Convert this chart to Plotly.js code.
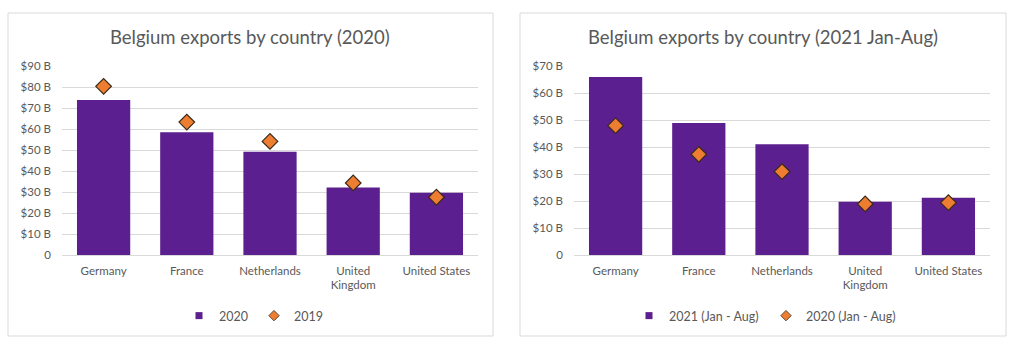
<!DOCTYPE html>
<html><head><meta charset="utf-8">
<script src="https://cdn.plot.ly/plotly-3.0.1.min.js"></script>
<style>html,body{margin:0;padding:0;background:#fff}#chart{width:1024px;height:354px}</style>
</head><body><div id="chart"></div>
<script>
const countries = ["Germany", "France", "Netherlands", "United<br>Kingdom", "United States"];
const exports2020 = [73.8, 58.4, 49.2, 32.1, 29.7];
const exports2019 = [80.3, 63.3, 54.1, 34.3, 27.5];
const exports2021JanAug = [65.9, 48.9, 41.0, 19.7, 21.2];
const exports2020JanAug = [47.9, 37.3, 30.9, 18.9, 19.4];
const leftTickVals = [0, 10, 20, 30, 40, 50, 60, 70, 80, 90];
const leftTickText = ["0", "$10 B", "$20 B", "$30 B", "$40 B", "$50 B", "$60 B", "$70 B", "$80 B", "$90 B"];
const rightTickVals = [0, 10, 20, 30, 40, 50, 60, 70];
const rightTickText = ["0", "$10 B", "$20 B", "$30 B", "$40 B", "$50 B", "$60 B", "$70 B"];
const leftTitle = "Belgium exports by country (2020)";
const rightTitle = "Belgium exports by country (2021 Jan-Aug)";
const leftSeriesNames = ["2020", "2019"];
const rightSeriesNames = ["2021 (Jan - Aug)", "2020 (Jan - Aug)"];

const FONT = "Lato, 'Open Sans', sans-serif";
const GREY = "#595959";
const PURPLE = "#5c1f8f";
const ORANGE = "#ed7d31";
const OUTLINE = "#3a2a1a";
const W = 1024, H = 354;

const diamond = {symbol: "diamond", size: 12, color: ORANGE, line: {color: OUTLINE, width: 1.2}};
const legendSquare = {symbol: "square", size: 7, color: PURPLE};
const legendDiamond = {symbol: "diamond", size: 8, color: ORANGE, line: {color: OUTLINE, width: 0.8}};

function legendEntry(name, marker, xa, ya, lg) {
  return {type: "scatter", mode: "markers", x: [null], y: [null], name: name, marker: marker,
    xaxis: xa, yaxis: ya, legend: lg, showlegend: true, hoverinfo: "skip"};
}

const traces = [
  {type: "bar", x: countries, y: exports2020, name: leftSeriesNames[0], marker: {color: PURPLE}, xaxis: "x", yaxis: "y", width: 0.64, showlegend: false},
  {type: "scatter", mode: "markers", x: countries, y: exports2019, name: leftSeriesNames[1], marker: diamond, xaxis: "x", yaxis: "y", showlegend: false},
  {type: "bar", x: countries, y: exports2021JanAug, name: rightSeriesNames[0], marker: {color: PURPLE}, xaxis: "x2", yaxis: "y2", width: 0.64, showlegend: false},
  {type: "scatter", mode: "markers", x: countries, y: exports2020JanAug, name: rightSeriesNames[1], marker: diamond, xaxis: "x2", yaxis: "y2", showlegend: false},
  legendEntry(leftSeriesNames[0], legendSquare, "x", "y", "legend"),
  legendEntry(leftSeriesNames[1], legendDiamond, "x", "y", "legend"),
  legendEntry(rightSeriesNames[0], legendSquare, "x2", "y2", "legend2"),
  legendEntry(rightSeriesNames[1], legendDiamond, "x2", "y2", "legend2")
];

const yDom = [99 / H, 288 / H];
const xAxisBase = {
  type: "category", showgrid: false, zeroline: false, showline: false,
  tickfont: {family: FONT, size: 11.5, color: GREY}, ticks: "", ticklabelstandoff: 7, fixedrange: true
};
const yAxisBase = {
  showgrid: true, gridcolor: "#d9d9d9", gridwidth: 1, zeroline: true, zerolinecolor: "#d9d9d9", zerolinewidth: 1,
  showline: false, ticks: "", tickfont: {family: FONT, size: 11.5, color: GREY}, ticklabelstandoff: 10, fixedrange: true
};
const legendBase = {orientation: "h", xanchor: "center", y: 1 - 316 / H, yanchor: "middle",
  font: {family: FONT, size: 12.5, color: GREY}, bgcolor: "rgba(0,0,0,0)", itemwidth: 30, tracegroupgap: 0,
  entrywidthmode: "pixels"};

const layout = {
  width: W, height: H,
  margin: {l: 0, r: 0, t: 0, b: 0},
  paper_bgcolor: "#fff", plot_bgcolor: "rgba(0,0,0,0)",
  showlegend: true,
  xaxis: Object.assign({}, xAxisBase, {domain: [62 / W, 478 / W], anchor: "y"}),
  yaxis: Object.assign({}, yAxisBase, {domain: yDom, range: [0, 90], tickvals: leftTickVals, ticktext: leftTickText, anchor: "x"}),
  xaxis2: Object.assign({}, xAxisBase, {domain: [574 / W, 990 / W], anchor: "y2"}),
  yaxis2: Object.assign({}, yAxisBase, {domain: yDom, range: [0, 70], tickvals: rightTickVals, ticktext: rightTickText, anchor: "x2"}),
  legend: Object.assign({}, legendBase, {x: 254 / W, entrywidth: 30}),
  legend2: Object.assign({}, legendBase, {x: 766 / W, entrywidth: 92}),
  annotations: [
    {text: leftTitle, xref: "paper", yref: "paper", x: 250 / W, y: 1 - 37 / H, xanchor: "center", yanchor: "middle",
      showarrow: false, font: {family: FONT, size: 18.5, color: GREY}},
    {text: rightTitle, xref: "paper", yref: "paper", x: 763 / W, y: 1 - 37 / H, xanchor: "center", yanchor: "middle",
      showarrow: false, font: {family: FONT, size: 18.5, color: GREY}}
  ],
  shapes: [
    {type: "rect", xref: "paper", yref: "paper", x0: 8 / W, x1: 493 / W, y0: 1 - 336 / H, y1: 1 - 13 / H, line: {color: "#d9d9d9", width: 1}, layer: "below"},
    {type: "rect", xref: "paper", yref: "paper", x0: 520 / W, x1: 1006 / W, y0: 1 - 336 / H, y1: 1 - 13 / H, line: {color: "#d9d9d9", width: 1}, layer: "below"}
  ]
};

Plotly.newPlot("chart", traces, layout, {staticPlot: true, displayModeBar: false});
</script></body></html>
